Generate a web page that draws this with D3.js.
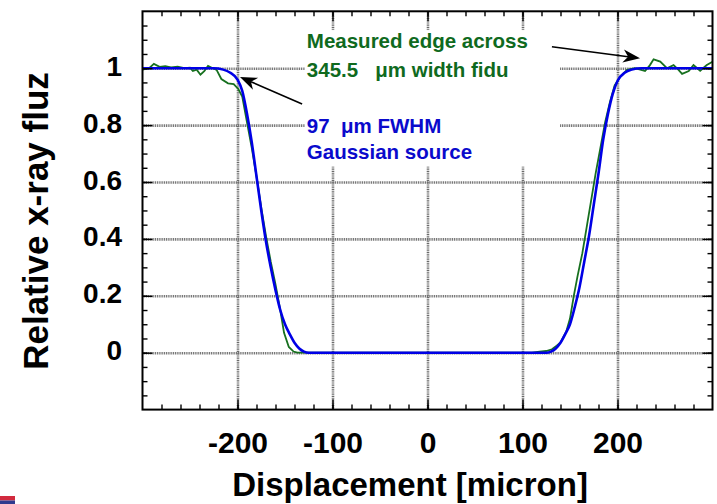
<!DOCTYPE html>
<html>
<head>
<meta charset="utf-8">
<script src="https://cdn.jsdelivr.net/npm/d3@7"></script>
<style>
  body { margin: 0; background: #fff; }
  svg { display: block; font-family: "Liberation Sans", Arial, sans-serif; font-weight: bold; }
  .grid line { stroke: #6a6a6a; stroke-width: 2.6; stroke-dasharray: 1 0.8; }
  .grid path, .ticks path { display: none; }
  .ticks line { stroke: #000; stroke-width: 1.4; }
  .labels path, .labels line { display: none; }
</style>
</head>
<body>
<svg id="svg" width="717" height="504"></svg>
<script>
// blue: 97 um FWHM gaussian source model
let modelX = [-300, -225, -215, -208, -200, -195, -190, -185, -180, -175, -170, -165, -160, -155, -150, -145, -140, -135, -130, -125,
              125, 130, 135, 140, 145, 150, 155, 160, 165, 170, 175, 180, 185, 190, 195, 200, 208, 215, 225, 300];
let modelY = [1, 1, 0.995, 0.985, 0.96, 0.92, 0.84, 0.74, 0.62, 0.5, 0.39, 0.3, 0.22, 0.15, 0.10, 0.065, 0.035, 0.015, 0.004, 0,
              0, 0.004, 0.015, 0.035, 0.065, 0.10, 0.16, 0.23, 0.32, 0.41, 0.52, 0.63, 0.75, 0.84, 0.91, 0.955, 0.985, 0.995, 1, 1];

// green: measured edge
let measX = [-300, -293, -288, -282, -276, -270, -263, -256, -250, -247, -243, -239, -235, -231, -226, -222, -217, -210, -204, -199,
             -195, -190, -185, -180, -175, -170, -165, -160, -155, -151, -146, -141, -137, -120, -60, 0, 60, 110,
             118, 125, 131, 136, 140, 146, 150, 154, 158, 163, 168, 172, 177, 182, 187, 192, 197, 203, 210, 218,
             224, 229, 234, 238, 245, 252, 259, 264, 268, 275, 280, 287, 294, 300];
let measY = [0.995, 1.0, 1.015, 1.005, 1.007, 1.003, 1.005, 1.0, 1.002, 0.99, 0.995, 0.977, 0.99, 1.008, 1.0, 0.994, 0.962, 0.947, 0.944, 0.926,
             0.90, 0.81, 0.72, 0.62, 0.51, 0.41, 0.32, 0.24, 0.15, 0.07, 0.02, 0.004, 0, 0, 0, 0, 0, 0,
             0.004, 0.006, 0.012, 0.025, 0.036, 0.074, 0.12, 0.2, 0.27, 0.35, 0.45, 0.53, 0.63, 0.72, 0.81, 0.88, 0.94, 0.97, 0.994, 1.0,
             0.995, 0.99, 1.01, 1.031, 1.023, 1.0, 1.011, 0.995, 0.98, 0.99, 1.011, 0.991, 1.011, 1.023];

let xTicks = [-200, -100, 0, 100, 200];
let xTickLabels = ["-200", "-100", "0", "100", "200"];
let yTicks = [0, 0.2, 0.4, 0.6, 0.8, 1];
let yTickLabels = ["0", "0.2", "0.4", "0.6", "0.8", "1"];

let svg = d3.select("#svg");
const width = 717;
const height = 504;
const margin = { top: 11.3, right: 4.5, bottom: 94.4, left: 142.5 };
const chartWidth = width - margin.left - margin.right;
const chartHeight = height - margin.top - margin.bottom;

let xScale = d3.scaleLinear().domain([-300, 300]).range([0, chartWidth]);
let yScale = d3.scaleLinear().domain([-0.2, 1.2]).range([chartHeight, 0]);

let chart = svg.append("g")
    .attr("transform", `translate(${margin.left},${margin.top})`);

// grid
chart.append("g")
    .attr("class", "grid")
    .attr("transform", `translate(0,${chartHeight})`)
    .call(d3.axisBottom(xScale).tickValues(xTicks).tickSize(-chartHeight).tickFormat(""));
chart.append("g")
    .attr("class", "grid")
    .call(d3.axisLeft(yScale).tickValues(yTicks).tickSize(-chartWidth).tickFormat(""));

// white box behind the annotation text
chart.append("rect")
    .attr("x", xScale(-129))
    .attr("y", yScale(1.134))
    .attr("width", xScale(139.5) - xScale(-129))
    .attr("height", yScale(0.655) - yScale(1.134))
    .attr("fill", "#fff");

// curves
let line = d3.line().x(d => xScale(d[0])).y(d => yScale(d[1]));

chart.append("path")
    .datum(d3.zip(measX, measY))
    .attr("fill", "none")
    .attr("stroke", "#17701f")
    .attr("stroke-width", 1.8)
    .attr("d", line);

chart.append("path")
    .datum(d3.zip(modelX, modelY))
    .attr("fill", "none")
    .attr("stroke", "#0000e6")
    .attr("stroke-width", 2.6)
    .attr("d", line.curve(d3.curveMonotoneX));

// tick marks on all four sides, pointing inward
let xMinor = d3.range(-280, 300, 20);
let yMinor = d3.range(-0.15, 1.2, 0.05);
function tickAxes(values, size) {
    chart.append("g").attr("class", "ticks")
        .attr("transform", `translate(0,${chartHeight})`)
        .call(d3.axisBottom(xScale).tickValues(values.x).tickSize(-size).tickFormat(""));
    chart.append("g").attr("class", "ticks")
        .call(d3.axisTop(xScale).tickValues(values.x).tickSize(-size).tickFormat(""));
    chart.append("g").attr("class", "ticks")
        .call(d3.axisLeft(yScale).tickValues(values.y).tickSize(-size).tickFormat(""));
    chart.append("g").attr("class", "ticks")
        .attr("transform", `translate(${chartWidth},0)`)
        .call(d3.axisRight(yScale).tickValues(values.y).tickSize(-size).tickFormat(""));
}
tickAxes({ x: xMinor, y: yMinor }, 5);
tickAxes({ x: xTicks, y: yTicks }, 10);

chart.append("rect")
    .attr("width", chartWidth)
    .attr("height", chartHeight)
    .attr("fill", "none")
    .attr("stroke", "#000")
    .attr("stroke-width", 2);

// tick labels
let xAxis = chart.append("g").attr("class", "labels")
    .attr("transform", `translate(0,${chartHeight})`)
    .call(d3.axisBottom(xScale).tickValues(xTicks).tickSize(0).tickPadding(0)
        .tickFormat((d, i) => xTickLabels[i]));
xAxis.selectAll("text")
    .attr("dy", null)
    .attr("y", 43.5)
    .attr("fill", "#000")
    .style("font-size", "30px")
    .style("font-family", "'Liberation Sans', Arial, sans-serif")
    .style("font-weight", "bold");

let yAxis = chart.append("g").attr("class", "labels")
    .call(d3.axisLeft(yScale).tickValues(yTicks).tickSize(0).tickPadding(0)
        .tickFormat((d, i) => yTickLabels[i]));
yAxis.selectAll("text")
    .attr("dy", null)
    .attr("x", -20.5)
    .attr("y", 7)
    .attr("fill", "#000")
    .style("font-size", "28px")
    .style("font-family", "'Liberation Sans', Arial, sans-serif")
    .style("font-weight", "bold");

// axis titles
svg.append("text")
    .attr("x", 410)
    .attr("y", 496)
    .attr("text-anchor", "middle")
    .style("font-size", "33px")
    .text("Displacement [micron]");

svg.append("text")
    .attr("transform", "translate(48,221) rotate(-90)")
    .attr("text-anchor", "middle")
    .style("font-size", "35px")
    .text("Relative x-ray fluz");

// annotations
let notes = [
    { x: -127, y: 1.071, text: "Measured edge across", color: "#0f6a1e" },
    { x: -127, y: 0.970, text: "345.5   μm width fidu", color: "#0f6a1e" },
    { x: -127, y: 0.771, text: "97  μm FWHM", color: "#0a0acc" },
    { x: -127, y: 0.681, text: "Gaussian source", color: "#0a0acc" }
];
chart.selectAll(".note")
    .data(notes)
    .enter().append("text")
    .attr("class", "note")
    .attr("x", d => xScale(d.x))
    .attr("y", d => yScale(d.y))
    .attr("fill", d => d.color)
    .style("font-size", "20.5px")
    .style("white-space", "pre")
    .text(d => d.text);

let arrows = [
    { x0: -132, y0: 0.874, x1: -197.4, y1: 0.969 },
    { x0: 131, y0: 1.0756, x1: 223.7, y1: 1.035 }
];
arrows.forEach(a => {
    let tx = xScale(a.x0), ty = yScale(a.y0);
    let hx = xScale(a.x1), hy = yScale(a.y1);
    let ang = Math.atan2(hy - ty, hx - tx);
    let L = 17, W = 6.5, N = 12;
    let ux = Math.cos(ang), uy = Math.sin(ang);
    let px = -uy, py = ux;
    chart.append("line")
        .attr("x1", tx).attr("y1", ty)
        .attr("x2", hx - ux * N).attr("y2", hy - uy * N)
        .attr("stroke", "#000")
        .attr("stroke-width", 1.6);
    let pts = [
        [hx, hy],
        [hx - ux * L + px * W, hy - uy * L + py * W],
        [hx - ux * N, hy - uy * N],
        [hx - ux * L - px * W, hy - uy * L - py * W]
    ];
    chart.append("path")
        .attr("d", "M" + pts.join("L") + "Z")
        .attr("fill", "#000");
});

// small logo strip bottom-left
svg.append("rect").attr("x", 0).attr("y", 496).attr("width", 15).attr("height", 4.5).attr("fill", "#d22a3e");
svg.append("rect").attr("x", 0).attr("y", 500.5).attr("width", 15).attr("height", 3.5).attr("fill", "#2f3b8f");
</script>
</body>
</html>
